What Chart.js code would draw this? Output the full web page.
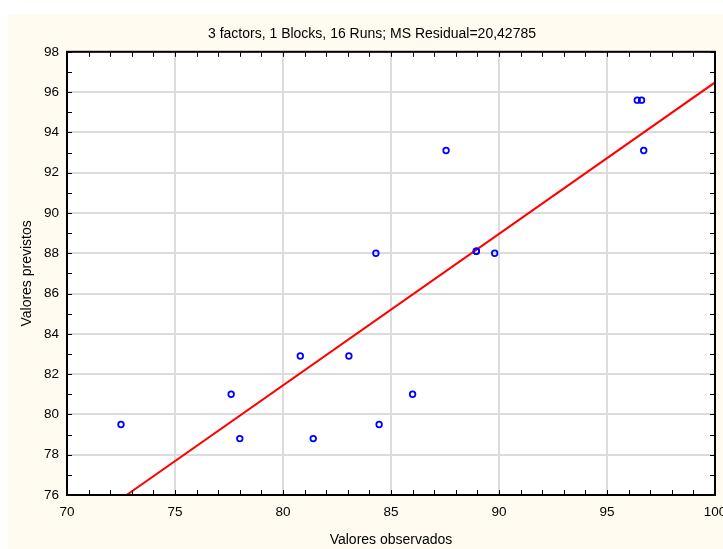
<!DOCTYPE html>
<html>
<head>
<meta charset="utf-8">
<script src="https://cdn.jsdelivr.net/npm/chart.js@4.4.1/dist/chart.umd.min.js"></script>
<style>
  html, body { margin: 0; padding: 0; background: #ffffff; overflow: hidden; }
  #wrap { position: absolute; left: 0; top: 0; width: 740px; height: 549px; }
</style>
</head>
<body>
<div id="wrap"><canvas id="myChart" width="740" height="549"></canvas></div>
<script>
// valores
const observados = [72.5, 77.6, 78.0, 80.8, 81.4, 83.05, 84.45, 86.0, 84.3, 87.55, 88.95, 88.95, 89.8, 96.4, 96.6, 96.7];
const previstos  = [79.5, 81.0, 78.8, 82.9, 78.8, 82.9, 79.5, 81.0, 88.0, 93.1, 88.1, 88.1, 88.0, 95.6, 95.6, 93.1];

// reta de ajuste (extremos dentro da area)
const retaX = [72.76, 100];
const retaY = [76, 96.48];

const xTicks = [70, 75, 80, 85, 90, 95, 100];
const yTicks = [76, 78, 80, 82, 84, 86, 88, 90, 92, 94, 96, 98];
const titulo = '3 factors, 1 Blocks, 16 Runs; MS Residual=20,42785';

const fonte = 'Arial, "Liberation Sans", sans-serif';

// fundo creme + area branca + moldura e marcas internas
const fundo = {
  id: 'fundo',
  beforeDraw(chart) {
    const { ctx, chartArea: a } = chart;
    ctx.save();
    ctx.fillStyle = '#ffffff';
    ctx.fillRect(0, 0, chart.width, chart.height);
    ctx.fillStyle = '#fffbf0';
    ctx.fillRect(8, 14, chart.width - 8, chart.height - 14);
    ctx.fillStyle = '#ffffff';
    ctx.fillRect(a.left, a.top, a.right - a.left, a.bottom - a.top);
    ctx.restore();
  },
  afterDatasetsDraw(chart) {
    const { ctx, chartArea: a, scales } = chart;
    ctx.save();
    ctx.strokeStyle = '#000000';
    ctx.lineWidth = 1;
    ctx.beginPath();
    for (let v = 70; v <= 100; v++) {
      const x = Math.round(scales.x.getPixelForValue(v)) + 0.5;
      ctx.moveTo(x, a.bottom); ctx.lineTo(x, a.bottom - 5);
      ctx.moveTo(x, a.top); ctx.lineTo(x, a.top + 5);
    }
    for (let v = 76; v <= 98; v++) {
      const y = Math.round(scales.y.getPixelForValue(v)) + 0.5;
      ctx.moveTo(a.left, y); ctx.lineTo(a.left + 5, y);
      ctx.moveTo(a.right, y); ctx.lineTo(a.right - 5, y);
    }
    ctx.stroke();
    ctx.lineWidth = 2;
    ctx.strokeRect(a.left, a.top, a.right - a.left, a.bottom - a.top);
    ctx.restore();
  }
};

const ctx = document.getElementById('myChart');
new Chart(ctx, {
  type: 'scatter',
  data: {
    datasets: [
      {
        label: 'reta',
        type: 'line',
        data: retaX.map((x, i) => ({ x: x, y: retaY[i] })),
        borderColor: '#ff0000',
        borderWidth: 2,
        pointRadius: 0,
        fill: false,
        order: 2
      },
      {
        label: 'pontos',
        data: observados.map((x, i) => ({ x: x, y: previstos[i] })),
        pointStyle: 'circle',
        pointRadius: 2.8,
        pointBorderWidth: 1.8,
        pointBorderColor: '#0000ff',
        pointBackgroundColor: 'rgba(0,0,0,0)',
        order: 1
      }
    ]
  },
  options: {
    responsive: false,
    animation: false,
    devicePixelRatio: 1,
    layout: { padding: { left: 29, right: 25, top: 0, bottom: 0 } },
    plugins: {
      legend: { display: false },
      tooltip: { enabled: false },
      title: {
        display: true,
        text: titulo,
        color: '#000000',
        font: { family: fonte, size: 14, weight: 'normal' },
        padding: { top: 26, bottom: 9 }
      }
    },
    scales: {
      x: {
        type: 'linear',
        min: 70,
        max: 100,
        afterFit(scale) { scale.height = 54; },
        afterBuildTicks(scale) { scale.ticks = xTicks.map(v => ({ value: v })); },
        ticks: { color: '#000000', padding: 9, font: { family: fonte, size: 13.5 } },
        grid: { color: '#dcdcdc', lineWidth: 2, drawTicks: false },
        border: { display: false },
        title: {
          display: true,
          text: 'Valores observados',
          color: '#000000',
          font: { family: fonte, size: 14 },
          padding: { top: 0, bottom: 0 }
        }
      },
      y: {
        type: 'linear',
        min: 76,
        max: 98,
        afterFit(scale) { scale.width = 38; },
        afterBuildTicks(scale) { scale.ticks = yTicks.map(v => ({ value: v })); },
        ticks: { color: '#000000', padding: 8, font: { family: fonte, size: 13.5 } },
        grid: { color: '#dcdcdc', lineWidth: 2, drawTicks: false },
        border: { display: false },
        title: {
          display: true,
          text: 'Valores previstos',
          color: '#000000',
          font: { family: fonte, size: 14 },
          padding: { top: -10, bottom: 0 }
        }
      }
    }
  },
  plugins: [fundo]
});
</script>
</body>
</html>
